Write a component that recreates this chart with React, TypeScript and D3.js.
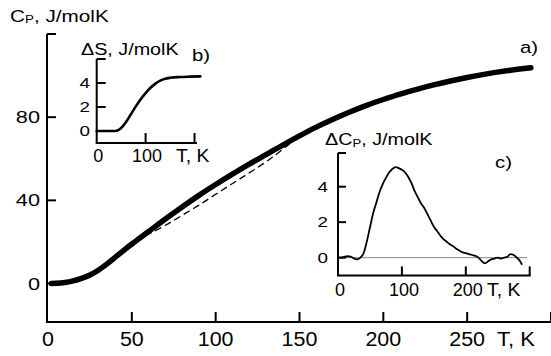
import React from "react";
import * as d3 from "d3";

// ---- Data ----
// a) main: heat capacity Cp (J/molK) vs T (K)
const cpT = [2, 5, 10, 15, 20, 25, 30, 35, 40, 45, 50, 55, 60, 70, 80, 90, 100, 110, 120, 130, 140, 150, 160, 170, 180, 190, 200, 210, 220, 230, 240, 250, 260, 270, 280, 288];
const cpVal = [0, 0.1, 0.5, 1.3, 2.5, 4.1, 6.4, 9.3, 12.6, 15.8, 19.0, 22.0, 25.0, 31.0, 36.8, 42.4, 47.6, 52.6, 57.4, 62.0, 66.6, 71.0, 75.2, 79.0, 82.5, 85.7, 88.5, 91.1, 93.4, 95.5, 97.4, 99.1, 100.6, 101.9, 103.0, 103.8];
// baseline (dashed)
const baseT = [58, 70, 80, 90, 100, 110, 120, 130, 140, 148];
const baseVal = [23.0, 28.0, 32.8, 37.7, 42.9, 48.1, 53.2, 58.5, 64.5, 69.8];

// b) entropy excess ΔS
const dsT = [0, 20, 35, 40, 45, 50, 60, 70, 80, 90, 100, 110, 120, 130, 140, 150, 170, 190, 212];
const dsVal = [0, 0, 0, 0.02, 0.1, 0.25, 0.75, 1.4, 2.05, 2.65, 3.15, 3.6, 3.95, 4.2, 4.35, 4.43, 4.5, 4.53, 4.55];

// c) excess heat capacity ΔCp
const dcpT = [0, 5, 10, 15, 20, 25, 30, 35, 40, 45, 50, 55, 60, 65, 70, 75, 80, 85, 90, 95, 100, 105, 110, 115, 120, 125, 130, 135, 140, 145, 150, 155, 160, 165, 170, 175, 180, 185, 190, 195, 200, 205, 210, 215, 220, 225, 230, 235, 240, 245, 250, 255, 260, 265, 270, 275, 280, 285, 288];
const dcpVal = [0, 0, 0.05, 0.08, 0.06, -0.05, -0.1, 0, 0.25, 0.9, 1.7, 2.5, 3.1, 3.7, 4.15, 4.5, 4.8, 5.0, 5.1, 5.05, 4.95, 4.8, 4.55, 4.2, 3.75, 3.4, 3.05, 2.8, 2.45, 2.1, 1.75, 1.5, 1.25, 1.05, 0.9, 0.75, 0.65, 0.5, 0.4, 0.3, 0.25, 0.2, 0.15, 0.1, 0, -0.2, -0.32, -0.2, -0.1, -0.05, 0, -0.05, 0, 0.05, 0.2, 0.15, 0, -0.2, -0.4];

// tick values
const mainXTicks = [50, 100, 150, 200, 250, 300];
const mainXLabels = ["0", "50", "100", "150", "200", "250"];
const mainXLabelVals = [0, 50, 100, 150, 200, 250];
const mainYTicks = [0, 40, 80, 120];
const mainYLabels = ["0", "40", "80"];
const bXTicks = [100, 200];
const bXLabelVals = [0, 100];
const bYTicks = [0, 2, 4, 6];
const bYLabels = ["0", "2", "4"];
const cXTicks = [100, 200, 300];
const cXLabelVals = [0, 100, 200];
const cYTicks = [0, 2, 4, 6];
const cYLabels = ["0", "2", "4"];

const FONT = "'Liberation Sans', Arial, Helvetica, sans-serif";

function T({ x, y, children, size = 16, sx = 1.25, anchor = "start" }: any) {
  return (
    <text
      transform={`translate(${x},${y}) scale(${sx},1)`}
      fontSize={size}
      fontFamily={FONT}
      textAnchor={anchor}
      fill="#000"
    >
      {children}
    </text>
  );
}

export default function App() {
  const W = 551, H = 356;

  // main scales
  const x = d3.scaleLinear().domain([0, 300]).range([48, 551]);
  const y = d3.scaleLinear().domain([-18.5, 120]).range([322, 34]);
  const axX = 47;

  const mainLine = d3.line<number>().x((_, i) => x(cpT[i])).y((d) => y(d)).curve(d3.curveMonotoneX);
  const baseLine = d3.line<number>().x((_, i) => x(baseT[i])).y((d) => y(d)).curve(d3.curveMonotoneX);

  // inset b
  const xb = d3.scaleLinear().domain([0, 200]).range([96.7, 194.5]);
  const yb = d3.scaleLinear().domain([-1, 6]).range([143, 59]);
  const bLine = d3.line<number>().x((_, i) => xb(dsT[i])).y((d) => yb(d)).curve(d3.curveMonotoneX);

  // inset c
  const xc = d3.scaleLinear().domain([0, 300]).range([338, 529.7]);
  const yc = d3.scaleLinear().domain([-1, 6]).range([275.4, 151.2]);
  const cLine = d3.line<number>().x((_, i) => xc(dcpT[i])).y((d) => yc(d)).curve(d3.curveMonotoneX);

  return (
    <svg width={W} height={H} style={{ position: "absolute", left: 0, top: 0, background: "#fff" }}>
      <rect width={W} height={H} fill="#fff" />
      {/* ---- main axes ---- */}
      <g stroke="#000" strokeWidth={2} fill="none">
        <line x1={axX} y1={y(120)} x2={axX} y2={y(-18.5)} />
        <line x1={axX - 1} y1={y(-18.5)} x2={551} y2={y(-18.5)} />
        {mainYTicks.map((t) => (
          <line key={"my" + t} x1={axX} x2={axX + 9} y1={y(t)} y2={y(t)} />
        ))}
        {mainXTicks.map((t) => (
          <line key={"mx" + t} x1={x(t)} x2={x(t)} y1={y(-18.5)} y2={y(-18.5) - 10} />
        ))}
      </g>
      {mainYLabels.map((l, i) => (
        <T key={"myl" + l} x={40} y={y(mainYTicks[i]) + 6} size={17} sx={1.28} anchor="end">{l}</T>
      ))}
      {mainXLabels.map((l, i) => (
        <T key={"mxl" + l} x={x(mainXLabelVals[i])} y={346} size={19.5} sx={1.1} anchor="middle">{l}</T>
      ))}
      <T x={497} y={346} size={19.5} sx={1.13}>T, K</T>
      <T x={10} y={21.7} size={17} sx={1.22}>
        C<tspan fontSize={11} dy={1.5}>P</tspan><tspan dy={-1.5}>, J/molK</tspan>
      </T>
      <T x={520} y={53} size={17} sx={1.2}>a)</T>

      {/* main curves */}
      <path d={baseLine(baseVal) || ""} fill="none" stroke="#000" strokeWidth={1.3} strokeDasharray="7 4" />
      <path d={mainLine(cpVal) || ""} fill="none" stroke="#000" strokeWidth={5.5} strokeLinecap="round" strokeLinejoin="round" />

      {/* ---- inset b ---- */}
      <g stroke="#000" strokeWidth={2} fill="none">
        <line x1={xb(0)} y1={yb(6)} x2={xb(0)} y2={yb(-1)} />
        <line x1={xb(0) - 1} y1={yb(-1)} x2={xb(205)} y2={yb(-1)} />
        {bYTicks.map((t) => (
          <line key={"by" + t} x1={xb(0)} x2={xb(0) + 9} y1={yb(t)} y2={yb(t)} />
        ))}
        {bXTicks.map((t) => (
          <line key={"bx" + t} x1={xb(t)} x2={xb(t)} y1={yb(-1)} y2={yb(-1) - 10} />
        ))}
      </g>
      {bYLabels.map((l, i) => (
        <T key={"byl" + l} x={90} y={yb(bYTicks[i]) + 5} size={14.5} sx={1.3} anchor="end">{l}</T>
      ))}
      {bXLabelVals.map((v) => (
        <T key={"bxl" + v} x={xb(v) + 1.5} y={161.5} size={18} sx={1.0} anchor="middle">{String(v)}</T>
      ))}
      <T x={176} y={161.5} size={18} sx={1.08}>T, K</T>
      <T x={81} y={55} size={15.8} sx={1.25}>ΔS, J/molK</T>
      <T x={192} y={61} size={17} sx={1.2}>b)</T>
      <path d={bLine(dsVal) || ""} fill="none" stroke="#000" strokeWidth={2.6} strokeLinecap="round" />

      {/* ---- inset c ---- */}
      <line x1={xc(0)} x2={xc(296)} y1={yc(0)} y2={yc(0)} stroke="#888" strokeWidth={1} />
      <g stroke="#000" strokeWidth={2} fill="none">
        <line x1={xc(0)} y1={yc(5.9)} x2={xc(0)} y2={yc(-1)} />
        <line x1={xc(0) - 1} y1={yc(-1)} x2={xc(300) + 1} y2={yc(-1)} />
        <line x1={xc(0)} x2={xc(0) + 8} y1={yc(5.9)} y2={yc(5.9)} />
        {cYTicks.slice(0, 3).map((t) => (
          <line key={"cy" + t} x1={xc(0)} x2={xc(0) + 8} y1={yc(t)} y2={yc(t)} />
        ))}
        {cXTicks.map((t) => (
          <line key={"cx" + t} x1={xc(t)} x2={xc(t)} y1={yc(-1)} y2={yc(-1) - 9} />
        ))}
      </g>
      {cYLabels.map((l, i) => (
        <T key={"cyl" + l} x={328} y={yc(cYTicks[i]) + 5} size={14.5} sx={1.3} anchor="end">{l}</T>
      ))}
      {cXLabelVals.map((v) => (
        <T key={"cxl" + v} x={xc(v) + 2} y={296} size={18} sx={1.0} anchor="middle">{String(v)}</T>
      ))}
      <T x={487} y={296} size={18} sx={1.08}>T, K</T>
      <T x={325} y={145} size={15.8} sx={1.25}>
        ΔC<tspan fontSize={10.5} dy={1.5}>P</tspan><tspan dy={-1.5}>, J/molK</tspan>
      </T>
      <T x={495} y={168} size={17} sx={1.2}>c)</T>
      <path d={cLine(dcpVal) || ""} fill="none" stroke="#000" strokeWidth={1.8} strokeLinejoin="round" />
    </svg>
  );
}
